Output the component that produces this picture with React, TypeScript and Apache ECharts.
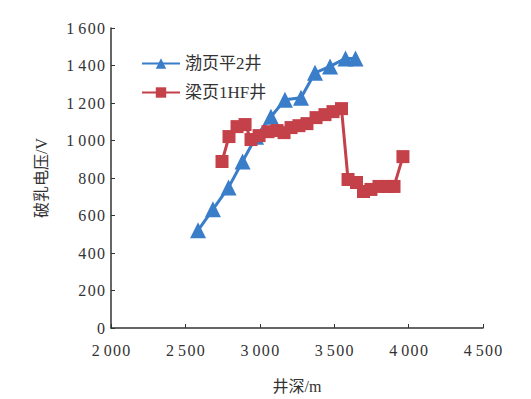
import React, { useEffect, useRef } from "react";
import * as echarts from "echarts";

const seriesNames = ["渤页平2井", "梁页1HF井"];
const bohaiDepth = [2585, 2685, 2790, 2884, 2975, 3075, 3169, 3277, 3371, 3472, 3576, 3643];
const bohaiVoltage = [521, 633, 750, 888, 1020, 1127, 1217, 1228, 1361, 1395, 1438, 1438];
const liangDepth = [2746, 2793, 2847, 2901, 2941, 2995, 3055, 3116, 3163, 3210, 3263, 3317, 3378, 3438, 3492, 3549, 3593, 3650, 3697, 3747, 3801, 3855, 3902, 3962];
const liangVoltage = [888, 1021, 1074, 1085, 1005, 1026, 1047, 1053, 1042, 1069, 1079, 1090, 1122, 1138, 1154, 1170, 792, 776, 728, 739, 755, 755, 755, 914];

const xTitle = "井深/m";
const yTitle = "破乳电压/V";

const fmt = (v: number) => {
  const s = String(v);
  if (v >= 1000) {
    const a = s.slice(0, s.length - 3);
    const b = s.slice(s.length - 3);
    return a + " " + b.split("").join("\u200a");
  }
  return s.split("").join("\u200a");
};

const FONT = "'Liberation Serif', 'Noto Sans CJK SC', serif";

export default function App() {
  const ref = useRef<HTMLDivElement>(null);
  useEffect(() => {
    if (!ref.current) return;
    const chart = echarts.init(ref.current, undefined, { renderer: "svg" });
    const toPairs = (xs: number[], ys: number[]) => xs.map((x, i) => [x, ys[i]]);
    chart.setOption({
      animation: false,
      backgroundColor: "#ffffff",
      textStyle: { fontFamily: FONT },
      grid: { left: 111, right: 48, top: 28, bottom: 70, containLabel: false },
      legend: {
        orient: "vertical",
        left: 136,
        top: 50,
        itemWidth: 38,
        itemHeight: 13,
        itemGap: 12,
        textStyle: { fontFamily: FONT, fontSize: 17, color: "#333" },
        data: seriesNames,
      },
      xAxis: {
        type: "value",
        min: 2000,
        max: 4500,
        interval: 500,
        name: xTitle,
        nameLocation: "middle",
        nameGap: 50,
        nameTextStyle: { fontFamily: FONT, fontSize: 16, color: "#333" },
        axisLine: { show: true, lineStyle: { color: "#333", width: 1.5 } },
        axisTick: { show: true, inside: true, length: 4, lineStyle: { color: "#333" } },
        axisLabel: { fontFamily: FONT, fontSize: 16, color: "#333", margin: 14, formatter: fmt },
        splitLine: { show: false },
      },
      yAxis: {
        type: "value",
        min: 0,
        max: 1600,
        interval: 200,
        name: yTitle,
        nameLocation: "middle",
        nameGap: 62,
        nameTextStyle: { fontFamily: FONT, fontSize: 16, color: "#333" },
        axisLine: { show: true, lineStyle: { color: "#333", width: 1.5 } },
        axisTick: { show: true, inside: true, length: 4, lineStyle: { color: "#333" } },
        axisLabel: { fontFamily: FONT, fontSize: 16, color: "#333", margin: 6, formatter: fmt },
        splitLine: { show: false },
      },
      series: [
        {
          name: seriesNames[0],
          type: "line",
          data: toPairs(bohaiDepth, bohaiVoltage),
          symbol: "triangle",
          symbolSize: 16,
          lineStyle: { color: "#3a7dc8", width: 3 },
          itemStyle: { color: "#3a7dc8" },
        },
        {
          name: seriesNames[1],
          type: "line",
          data: toPairs(liangDepth, liangVoltage),
          symbol: "rect",
          symbolSize: 13,
          lineStyle: { color: "#c4414a", width: 3 },
          itemStyle: { color: "#c4414a" },
        },
      ],
    });
    return () => chart.dispose();
  }, []);
  return <div ref={ref} style={{ position: "fixed", left: 0, top: 0, width: 531, height: 399 }} />;
}
